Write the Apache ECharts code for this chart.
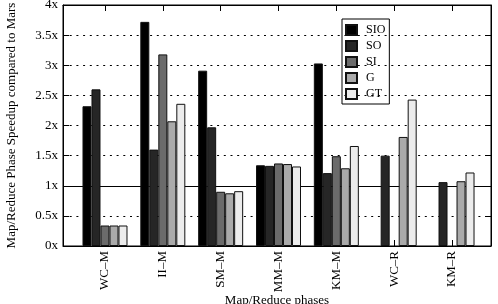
<!DOCTYPE html>
<html>
<head>
<meta charset="utf-8">
<script src="https://cdn.jsdelivr.net/npm/echarts@6/dist/echarts.min.js"></script>
<style>
  html, body { margin: 0; padding: 0; background: #fff; }
  #chart { width: 498px; height: 304px; }
</style>
</head>
<body>
<div id="chart"></div>
<script>
// categories and values
var categories = ['WC–M', 'II–M', 'SM–M', 'MM–M', 'KM–M', 'WC–R', 'KM–R']
var seriesNames = ['SIO', 'SO', 'SI', 'G', 'GT']
var sio = [2.32, 3.72, 2.91, 1.34, 3.03, null, null]
var so  = [2.60, 1.60, 1.97, 1.33, 1.21, 1.50, 1.06]
var si  = [0.34, 3.18, 0.90, 1.37, 1.49, null, null]
var g   = [0.34, 2.07, 0.875, 1.36, 1.29, 1.81, 1.075]
var gt  = [0.34, 2.36, 0.91, 1.32, 1.66, 2.43, 1.22]
var colors = ['#000000', '#262626', '#6b6b6b', '#aaaaaa', '#ececec']

var myCharts = echarts.init(document.getElementById('chart'))

var font = 'Liberation Serif'
var catIdx = categories.map(function (c, i) { return i })

// bars sit on a value axis so the plot can keep gnuplot's uneven side margins
function pairs(arr) {
    var out = []
    arr.forEach(function (v, i) {
        if (v !== null) out.push([i, v])
    })
    return out
}

var allData = [sio, so, si, g, gt]
var series = allData.map(function (arr, k) {
    var s = {
        name: seriesNames[k],
        type: 'bar',
        barWidth: 9,
        barGap: '0%',
        data: pairs(arr),
        itemStyle: {
            color: colors[k],
            borderColor: '#111',
            borderWidth: 1
        }
    }
    if (k === 0) {
        // solid line at 1x, behind the bars
        s.markLine = {
            silent: true,
            symbol: 'none',
            z: 1,
            label: { show: false },
            lineStyle: { color: '#000', width: 1, type: 'solid' },
            data: [{ yAxis: 1 }]
        }
    }
    return s
})

var xMin = -0.726, xMax = 6.674

var option = {
    animation: false,
    textStyle: { fontFamily: font },
    legend: {
        orient: 'vertical',
        left: 342,
        top: 19,
        padding: [5, 4, 4, 3],
        icon: 'rect',
        itemWidth: 11,
        itemHeight: 10,
        itemGap: 4,
        borderColor: '#000',
        borderWidth: 1,
        selectedMode: false,
        data: seriesNames,
        textStyle: { fontFamily: font, fontSize: 12, color: '#000', padding: [0, 0, 0, 4] }
    },
    grid: {
        left: 63,
        right: 7,
        top: 5,
        bottom: 58,
        show: true,
        borderColor: '#000',
        borderWidth: 1,
        outerBoundsMode: 'none'
    },
    xAxis: [
        {
            type: 'value',
            min: xMin,
            max: xMax,
            name: 'Map/Reduce phases',
            nameLocation: 'middle',
            nameGap: 48,
            nameMoveOverlap: false,
            nameTextStyle: { fontFamily: font, fontSize: 13, color: '#000' },
            axisLine: { show: true, onZero: false, lineStyle: { color: '#000' } },
            splitLine: { show: false },
            axisTick: {
                show: true,
                inside: true,
                length: 6,
                customValues: catIdx,
                lineStyle: { color: '#000' }
            },
            axisLabel: {
                show: true,
                rotate: 90,
                margin: 5,
                fontFamily: font,
                fontSize: 13,
                color: '#000',
                customValues: catIdx,
                formatter: function (v) { return categories[Math.round(v)] }
            }
        },
        {
            type: 'value',
            position: 'top',
            min: xMin,
            max: xMax,
            axisLine: { show: true, onZero: false, lineStyle: { color: '#000' } },
            splitLine: { show: false },
            axisLabel: { show: false },
            axisTick: {
                show: true,
                inside: true,
                length: 6,
                customValues: catIdx,
                lineStyle: { color: '#000' }
            }
        }
    ],
    yAxis: [
        {
            type: 'value',
            min: 0,
            max: 4,
            interval: 0.5,
            name: 'Map/Reduce Phase Speedup compared to Mars',
            nameLocation: 'middle',
            nameGap: 45,
            nameMoveOverlap: false,
            nameTextStyle: { fontFamily: font, fontSize: 13, color: '#000' },
            axisLine: { show: true, onZero: false, lineStyle: { color: '#000' } },
            axisTick: { show: true, inside: true, length: 6, lineStyle: { color: '#000' } },
            axisLabel: {
                margin: 5,
                fontFamily: font,
                fontSize: 13,
                color: '#000',
                formatter: function (v) { return v + 'x' }
            },
            splitLine: {
                show: true,
                lineStyle: { color: '#000', width: 1, type: [2, 4.7] }
            }
        },
        {
            type: 'value',
            position: 'right',
            min: 0,
            max: 4,
            interval: 0.5,
            axisLine: { show: true, onZero: false, lineStyle: { color: '#000' } },
            axisTick: { show: true, inside: true, length: 6, lineStyle: { color: '#000' } },
            axisLabel: { show: false },
            splitLine: { show: false }
        }
    ],
    series: series
}

myCharts.setOption(option)

window.addEventListener('resize', function () {
    myCharts.resize()
})
</script>
</body>
</html>
